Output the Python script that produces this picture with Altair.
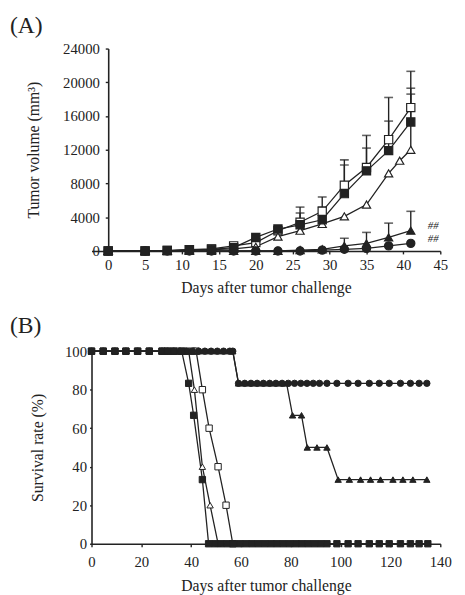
import altair as alt
import pandas as pd

INK = "#222222"
FONT = "Liberation Serif"

# ---------------- Panel A: tumour volume ----------------
days_a = [0, 5, 8, 11, 14, 17, 20, 23, 26, 29, 32, 35, 38, 41]
open_sq_vol = [0, 0, 50, 150, 250, 600, 1000, 2400, 3400, 4700, 7800, 9900, 13200, 17000]
filled_sq_vol = [0, 0, 50, 150, 200, 400, 1600, 2600, 3100, 3700, 6800, 9500, 11900, 15300]
open_tri_days = [0, 5, 8, 11, 14, 17, 20, 23, 26, 29, 32, 35, 38, 39.5, 41]
open_tri_vol = [0, 0, 0, 100, 150, 250, 500, 1700, 2400, 3200, 4100, 5500, 9200, 10700, 12000]
filled_tri_vol = [0, 0, 0, 0, 0, 0, 0, 0, 100, 200, 600, 900, 1600, 2400]
filled_circ_vol = [0, 0, 0, 0, 0, 0, 0, 0, 0, 100, 200, 300, 600, 900]

# upper error bars (mean + SD) where visible
err_days = [26, 29, 32, 35, 38, 41]
open_sq_top = [5200, 6400, 10800, 13700, 18200, 21300]
filled_sq_top = [4500, 5200, 10200, 12200, 15400, 19300]
filled_tri_err_days = [32, 35, 38, 41]
filled_tri_top = [1500, 2200, 3300, 4700]
open_tri_err_days = [41]
open_tri_top = [18600]

mark_days = [43.3, 43.3]
mark_vals = [3000, 1400]
mark_text = ["##", "##"]

# ---------------- Panel B: survival ----------------
osq_days = [0, 4.7, 9.4, 13.8, 18.5, 23.2, 28.3, 30.5, 33, 35.5, 38, 40.5, 42, 44.5, 47.2, 50.8, 54, 56.7]
osq_surv = [100, 100, 100, 100, 100, 100, 100, 100, 100, 100, 100, 100, 100, 80, 60, 40, 20, 0]
otri_days = [0, 4.7, 9.4, 13.8, 18.5, 23.2, 28.3, 30.5, 33, 35.5, 38, 39, 41.3, 44.5, 47.6, 50.8]
otri_surv = [100, 100, 100, 100, 100, 100, 100, 100, 100, 100, 100, 100, 80, 40, 20, 0]
ftri_days = [0, 4.7, 9.4, 13.8, 18.5, 23.2, 28.3, 30.5, 33, 35.5, 38, 40.5, 43, 45.5, 48, 50.5, 53, 55.5, 56.7,
             59, 61.5, 64, 66.5, 69, 71.5, 74, 76.5, 78.3, 80.7, 84.3, 86.6, 90.5, 94.5,
             99, 103.5, 108, 112, 116, 121, 125, 129, 134.6]
ftri_surv = [100] * 19 + [83.3] * 9 + [66.7, 66.7, 50, 50, 50] + [33.3] * 9
fcirc_days = [0, 4.7, 9.4, 13.8, 18.5, 23.2, 28.3, 30.5, 33, 35.5, 38, 40.5, 43, 45.5, 48, 50.5, 53, 55.5, 56.7,
              59, 61.5, 64, 66.5, 69, 71.5, 74, 76.5, 79, 81.5, 84, 86.5, 89, 91.5,
              94.5, 98.5, 103, 107, 111.5, 115.5, 119.5, 124, 128, 131.5, 134.6]
fcirc_surv = [100] * 19 + [83.3] * 25
fsq_days = [0, 4.7, 9.4, 13.8, 18.5, 23.2, 28.3, 30.5, 33, 36.2, 39, 41, 44.5,
            47, 49.5, 52, 54.5, 57, 59.5, 62, 64.5, 67, 69.5, 72, 74.5, 77, 79.5, 82, 84.5, 87, 89.5, 92,
            94.5, 98.5, 103, 107, 111.5, 115.5, 119.5, 124, 128, 131.5, 135]
fsq_surv = [100] * 10 + [83.3, 66.7, 33.3] + [0] * 30

series = ["osq", "otri", "ftri", "fcirc", "fsq"]
shapes = ["square", "triangle-up", "triangle-up", "circle", "square"]
fills = ["white", "white", INK, INK, INK]

x_ticks_a = [0, 5, 10, 15, 20, 25, 30, 35, 40, 45]
y_ticks_a = [0, 4000, 8000, 12000, 16000, 20000, 24000]
x_ticks_b = [0, 20, 40, 60, 80, 100, 120, 140]
y_ticks_b = [0, 20, 40, 60, 80, 100]


def long(pairs):
    rows = []
    for name, xs, ys in pairs:
        for i, (x, y) in enumerate(zip(xs, ys)):
            rows.append({"series": name, "day": x, "value": y, "order": i})
    return pd.DataFrame(rows)


dfA = long([
    ("osq", days_a, open_sq_vol),
    ("otri", open_tri_days, open_tri_vol),
    ("ftri", days_a, filled_tri_vol),
    ("fcirc", days_a, filled_circ_vol),
    ("fsq", days_a, filled_sq_vol),
])

err_rows = []
for name, ds, tops, src_days, src_vals in [
    ("osq", err_days, open_sq_top, days_a, open_sq_vol),
    ("fsq", err_days, filled_sq_top, days_a, filled_sq_vol),
    ("ftri", filled_tri_err_days, filled_tri_top, days_a, filled_tri_vol),
    ("otri", open_tri_err_days, open_tri_top, open_tri_days, open_tri_vol),
]:
    for d, t in zip(ds, tops):
        err_rows.append({"series": name, "day": d, "value": src_vals[src_days.index(d)], "top": t})
dfErr = pd.DataFrame(err_rows)

dfMark = pd.DataFrame({"day": mark_days, "value": mark_vals, "text": mark_text})

dfB = long([
    ("osq", osq_days, osq_surv),
    ("otri", otri_days, otri_surv),
    ("ftri", ftri_days, ftri_surv),
    ("fcirc", fcirc_days, fcirc_surv),
    ("fsq", fsq_days, fsq_surv),
])

shape_enc = alt.Shape("series:N", scale=alt.Scale(domain=series, range=shapes), legend=None)
fill_enc = alt.Fill("series:N", scale=alt.Scale(domain=series, range=fills), legend=None)
order_enc = alt.Order("order:Q")

AX = dict(labelFont=FONT, titleFont=FONT, labelFontSize=15, titleFontSize=16,
          titleFontWeight="normal", labelFontWeight="normal", labelColor=INK, titleColor=INK,
          labelOverlap=False, domainColor=INK, tickColor=INK, domainWidth=1.6, tickWidth=1.4,
          grid=False, labelFlush=False, tickCount=30)

# ---------- Panel A chart ----------
xA = alt.X("day:Q", scale=alt.Scale(domain=[-2.26, 45], nice=False, zero=False),
           axis=alt.Axis(values=x_ticks_a, title="Days after tumor challenge",
                         tickSize=3, labelPadding=4, titlePadding=7, **AX))
yA = alt.Y("value:Q", scale=alt.Scale(domain=[0, 24000], nice=False),
           axis=alt.Axis(values=y_ticks_a, format="d", title="Tumor volume (mm³)",
                         offset=-17, tickSize=3, labelPadding=6, titlePadding=21, **AX))

baseA = alt.Chart(dfA)
linesA = baseA.mark_line(color=INK, strokeWidth=1.3).encode(x=xA, y=yA, detail="series:N", order=order_enc)
rulesA = alt.Chart(dfErr).mark_rule(color=INK, strokeWidth=1.4).encode(x="day:Q", y="value:Q", y2="top:Q")
capsA = alt.Chart(dfErr).mark_tick(orient="horizontal", color=INK, size=9, thickness=1.6).encode(
    x="day:Q", y="top:Q")
pointsA = baseA.mark_point(filled=True, stroke=INK, strokeWidth=1.2, size=70, opacity=1).encode(
    x="day:Q", y="value:Q", shape=shape_enc, fill=fill_enc)
textA = alt.Chart(dfMark).mark_text(align="left", baseline="middle", font=FONT, fontSize=11,
                                    fontStyle="italic", fill=INK).encode(
    x="day:Q", y="value:Q", text="text:N")

chartA = alt.layer(linesA, rulesA, capsA, pointsA, textA).properties(
    width=355, height=206,
    title=alt.TitleParams("(A)", anchor="start", frame="group", dx=-83, fontSize=24, font=FONT,
                          fontWeight="normal", color=INK, offset=4))

# ---------- Panel B chart ----------
xB = alt.X("day:Q", scale=alt.Scale(domain=[0, 140], nice=False),
           axis=alt.Axis(values=x_ticks_b, title="Days after tumor challenge",
                         tickSize=3, labelPadding=8, titlePadding=9, **AX))
yB = alt.Y("value:Q", scale=alt.Scale(domain=[0, 100], nice=False),
           axis=alt.Axis(values=y_ticks_b, title="Survival rate (%)",
                         tickSize=2, labelPadding=3, titlePadding=19, **AX))
baseB = alt.Chart(dfB)
linesB = baseB.mark_line(color=INK, strokeWidth=1.3).encode(x=xB, y=yB, detail="series:N", order=order_enc)
pointsB = baseB.mark_point(filled=True, stroke=INK, strokeWidth=1.0, size=42, opacity=1).encode(
    x="day:Q", y="value:Q", shape=shape_enc, fill=fill_enc)

chartB = alt.layer(linesB, pointsB).properties(
    width=355, height=196,
    title=alt.TitleParams("(B)", anchor="start", frame="group", dx=-83, fontSize=24, font=FONT,
                          fontWeight="normal", color=INK, offset=7))

chart = alt.vconcat(chartA, chartB, spacing=19).properties(
    padding={"left": 2, "top": 1, "right": 5, "bottom": 2}
).configure(
    background="white"
).configure_view(
    stroke=None
)

chart.save("out.html", embed_options={"renderer": "svg", "actions": False})
